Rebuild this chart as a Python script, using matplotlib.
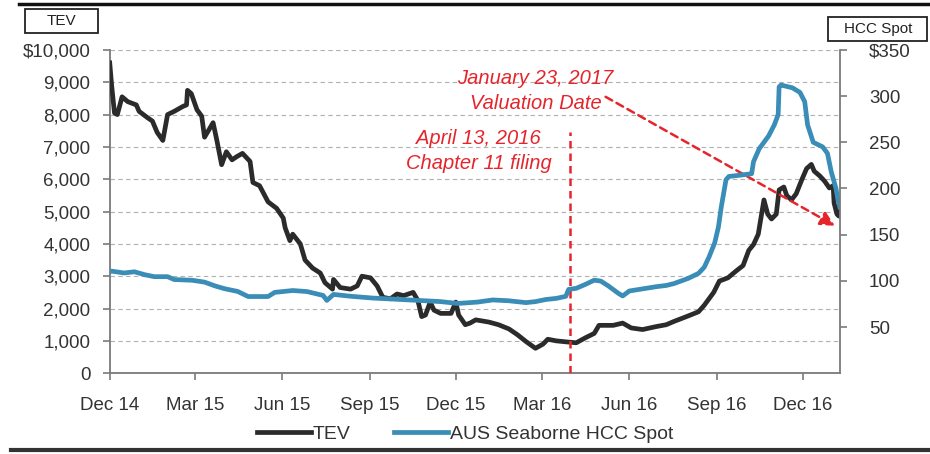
import numpy as np
import pandas as pd
import matplotlib
matplotlib.use("Agg")
import matplotlib.pyplot as plt
from matplotlib.lines import Line2D
from matplotlib.patches import Rectangle
from matplotlib.ticker import FuncFormatter

plt.rcParams['font.family'] = ['Liberation Sans', 'DejaVu Sans']

# TEV ($mm), left axis
tev_dates = [
    '2014-12-15', '2014-12-17', '2014-12-20', '2014-12-23', '2014-12-28', '2015-01-03',
    '2015-01-12', '2015-01-15', '2015-01-24', '2015-01-29', '2015-02-03', '2015-02-09',
    '2015-02-14', '2015-02-21', '2015-03-02', '2015-03-06', '2015-03-07', '2015-03-11',
    '2015-03-17', '2015-03-22', '2015-03-25', '2015-03-31', '2015-04-03', '2015-04-07',
    '2015-04-12', '2015-04-17', '2015-04-23', '2015-04-28', '2015-05-04', '2015-05-12',
    '2015-05-15', '2015-05-22', '2015-05-31', '2015-06-09', '2015-06-16', '2015-06-18',
    '2015-06-23', '2015-06-26', '2015-07-04', '2015-07-09', '2015-07-17', '2015-07-25',
    '2015-07-30', '2015-08-07', '2015-08-08', '2015-08-15', '2015-08-26', '2015-09-02',
    '2015-09-07', '2015-09-16', '2015-09-23', '2015-09-29', '2015-10-07', '2015-10-14',
    '2015-10-21', '2015-10-31', '2015-11-05', '2015-11-09', '2015-11-13', '2015-11-18',
    '2015-11-22', '2015-11-29', '2015-12-10', '2015-12-15', '2015-12-18', '2015-12-25',
    '2015-12-30', '2016-01-05', '2016-01-19', '2016-01-29', '2016-02-09', '2016-02-18',
    '2016-02-27', '2016-03-08', '2016-03-16', '2016-03-21', '2016-03-30', '2016-04-09',
    '2016-04-20', '2016-04-30', '2016-05-09', '2016-05-14', '2016-05-29', '2016-06-08',
    '2016-06-17', '2016-06-29', '2016-07-13', '2016-07-24', '2016-08-01', '2016-08-16',
    '2016-08-27', '2016-09-02', '2016-09-12', '2016-09-18', '2016-09-27', '2016-10-06',
    '2016-10-13', '2016-10-19', '2016-10-24', '2016-10-29', '2016-11-01', '2016-11-04',
    '2016-11-08', '2016-11-12', '2016-11-17', '2016-11-20', '2016-11-25', '2016-11-28',
    '2016-12-03', '2016-12-08', '2016-12-14', '2016-12-19', '2016-12-24', '2016-12-27',
    '2017-01-02', '2017-01-07', '2017-01-12', '2017-01-16', '2017-01-17', '2017-01-20',
    '2017-01-22', '2017-01-23',
]
tev_values = [
    9600, 8900, 8050, 8000, 8550, 8400,
    8300, 8100, 7900, 7800, 7450, 7200,
    8000, 8100, 8250, 8300, 8750, 8650,
    8150, 7950, 7300, 7600, 7750, 7200,
    6450, 6850, 6600, 6700, 6800, 6550,
    5900, 5800, 5300, 5100, 4800, 4500,
    4100, 4300, 4000, 3500, 3250, 3100,
    2800, 2600, 2900, 2650, 2600, 2700,
    3000, 2950, 2700, 2350, 2300, 2450,
    2400, 2500, 2250, 1750, 1800, 2200,
    1950, 1850, 1850, 2200, 1800, 1500,
    1550, 1650, 1580, 1500, 1370, 1190,
    980, 770, 900, 1050, 1000, 970,
    940, 1100, 1230, 1480, 1480, 1550,
    1400, 1350, 1440, 1500, 1600, 1770,
    1900, 2100, 2500, 2850, 2950, 3170,
    3330, 3800, 3980, 4300, 4830, 5360,
    4920, 4770, 4920, 5670, 5760, 5500,
    5360, 5550, 5990, 6330, 6460, 6250,
    6100, 5940, 5730, 5800, 5260, 4920,
    4860, 5170,
]

# AUS Seaborne HCC spot ($/t), right axis
hcc_dates = [
    '2014-12-15', '2014-12-17', '2014-12-30', '2015-01-10', '2015-01-21', '2015-01-31',
    '2015-02-14', '2015-02-21', '2015-03-12', '2015-03-25', '2015-04-05', '2015-04-15',
    '2015-04-29', '2015-05-10', '2015-05-31', '2015-06-07', '2015-06-26', '2015-07-11',
    '2015-07-28', '2015-08-01', '2015-08-08', '2015-08-26', '2015-09-19', '2015-10-07',
    '2015-10-25', '2015-11-11', '2015-11-29', '2015-12-17', '2016-01-07', '2016-01-23',
    '2016-02-09', '2016-02-27', '2016-03-08', '2016-03-19', '2016-03-30', '2016-04-09',
    '2016-04-12', '2016-04-20', '2016-04-30', '2016-05-09', '2016-05-16', '2016-05-24',
    '2016-06-03', '2016-06-08', '2016-06-15', '2016-06-29', '2016-07-13', '2016-07-24',
    '2016-08-01', '2016-08-16', '2016-08-27', '2016-09-02', '2016-09-07', '2016-09-13',
    '2016-09-17', '2016-09-20', '2016-09-25', '2016-09-28', '2016-10-11', '2016-10-22',
    '2016-10-24', '2016-10-30', '2016-11-09', '2016-11-15', '2016-11-19', '2016-11-20',
    '2016-11-22', '2016-12-04', '2016-12-12', '2016-12-17', '2016-12-20', '2016-12-26',
    '2017-01-05', '2017-01-10', '2017-01-14', '2017-01-19', '2017-01-21', '2017-01-23',
]
hcc_values = [
    110, 110.5, 108.5, 109.8, 106.6, 104.5,
    104.5, 101.4, 100.6, 98.6, 94.5, 91.5,
    88.5, 83, 83, 87.5, 89.5, 88.4,
    84.2, 78.8, 85.3, 83.3, 81.3, 80.4,
    79.4, 78.5, 77.5, 75.5, 77, 79.3,
    78.4, 76.4, 77.5, 79.8, 81.0, 83.2,
    90.7, 91.9, 96.3, 100.7, 99.7, 94.4,
    86.8, 83.6, 89, 91.3, 93.6, 95,
    97, 102.6, 108.1, 114.7, 125.6, 140.9,
    158.3, 180, 209.5, 213, 214.5, 216,
    229, 243, 257, 269, 280, 310,
    312, 309, 304, 294, 269, 250,
    245, 238, 218, 200, 188, 180,
]

tick_dates = ['2014-12-15', '2015-03-15', '2015-06-15', '2015-09-15', '2015-12-15',
              '2016-03-15', '2016-06-15', '2016-09-15', '2016-12-15']
tick_labels = ['Dec 14', 'Mar 15', 'Jun 15', 'Sep 15', 'Dec 15',
               'Mar 16', 'Jun 16', 'Sep 16', 'Dec 16']

filing_date = '2016-04-13'
valuation_date = '2017-01-23'

tev_x = pd.to_datetime(tev_dates)
hcc_x = pd.to_datetime(hcc_dates)

RED = '#e5252b'
TEXT = '#333333'

fig = plt.figure(figsize=(9.3, 4.54), dpi=100)
ax = fig.add_axes([0.118, 0.178, 0.785, 0.712])
ax2 = ax.twinx()

ax.plot(tev_x, tev_values, color='#2b2b2b', lw=3.4, solid_joinstyle='round', zorder=3)
ax2.plot(hcc_x, hcc_values, color='#3a8db6', lw=3.4, solid_joinstyle='round', zorder=2)

ax.set_xlim(pd.Timestamp(tev_dates[0]), pd.Timestamp(valuation_date))
ax.set_ylim(0, 10000)
ax2.set_ylim(0, 350)

ax.set_yticks(np.arange(0, 10001, 1000))
ax.yaxis.set_major_formatter(FuncFormatter(
    lambda v, p: '$10,000' if v == 10000 else f'{int(v):,}'))
ax2.set_yticks(np.arange(50, 351, 50))
ax2.yaxis.set_major_formatter(FuncFormatter(
    lambda v, p: '$350' if v == 350 else f'{int(v)}'))

ax.set_xticks(pd.to_datetime(tick_dates))
ax.set_xticklabels(tick_labels)

ax.grid(axis='y', color='#b0b0b0', linestyle=(0, (4, 3)), lw=0.8)
ax.set_axisbelow(True)

for a in (ax, ax2):
    a.spines['top'].set_visible(False)
    for s in a.spines.values():
        s.set_color('#7a7a7a')
        s.set_linewidth(1.3)
ax.spines['right'].set_visible(False)
ax2.spines['left'].set_visible(False)
ax2.spines['bottom'].set_visible(False)

ax.tick_params(axis='y', labelsize=13.5, colors=TEXT, length=5, width=1.2,
               pad=9, color='#7a7a7a')
ax.tick_params(axis='x', labelsize=13.5, colors=TEXT, length=5, width=1.2,
               pad=12, color='#7a7a7a')
ax2.tick_params(axis='y', labelsize=13.5, colors=TEXT, length=5, width=1.2,
                pad=16, color='#7a7a7a')

# Chapter 11 filing marker
fd = pd.Timestamp(filing_date)
ax.plot([fd, fd], [0, 7450], color=RED, lw=1.8, linestyle=(0, (3, 2)), zorder=4)
ax.text(pd.Timestamp('2016-01-08'), 6870, 'April 13, 2016\nChapter 11 filing',
        color=RED, fontsize=14.5, style='italic', ha='center', va='center',
        linespacing=1.45)

# valuation date callout
ax.text(pd.Timestamp('2016-03-08'), 8730, 'January 23, 2017\nValuation Date',
        color=RED, fontsize=14.5, style='italic', ha='center', va='center',
        linespacing=1.45)
ax.annotate('', xy=(pd.Timestamp('2017-01-18'), 4560),
            xytext=(pd.Timestamp('2016-05-21'), 8550),
            arrowprops=dict(arrowstyle='-|>', color=RED, lw=1.8,
                            linestyle=(0, (3, 2)), mutation_scale=22,
                            shrinkA=0, shrinkB=0),
            zorder=5)

# axis title boxes
fig.add_artist(Rectangle((0.027, 0.927), 0.078, 0.053, transform=fig.transFigure,
                         fill=False, edgecolor='#222222', lw=1.3))
fig.text(0.066, 0.953, 'TEV', fontsize=11, ha='center', va='center', color='#222222')
fig.add_artist(Rectangle((0.89, 0.91), 0.107, 0.053, transform=fig.transFigure,
                         fill=False, edgecolor='#222222', lw=1.3))
fig.text(0.944, 0.936, 'HCC Spot', fontsize=11, ha='center', va='center',
         color='#222222')

# top and bottom rules
fig.add_artist(Line2D([0.02, 1.0], [0.992, 0.992], color='#111111', lw=2.5,
                      transform=fig.transFigure))
fig.add_artist(Line2D([0.012, 1.0], [0.008, 0.008], color='#333333', lw=3,
                      transform=fig.transFigure))

handles = [Line2D([], [], color='#2b2b2b', lw=3.4),
           Line2D([], [], color='#3a8db6', lw=3.4)]
fig.legend(handles, ['TEV', 'AUS Seaborne HCC Spot'], loc='center',
           bbox_to_anchor=(0.5, 0.043), ncol=2, frameon=False, fontsize=14,
           handlelength=2.8, handletextpad=0.1, columnspacing=2.2,
           labelcolor=TEXT)

fig.savefig('out.png', dpi=100)
